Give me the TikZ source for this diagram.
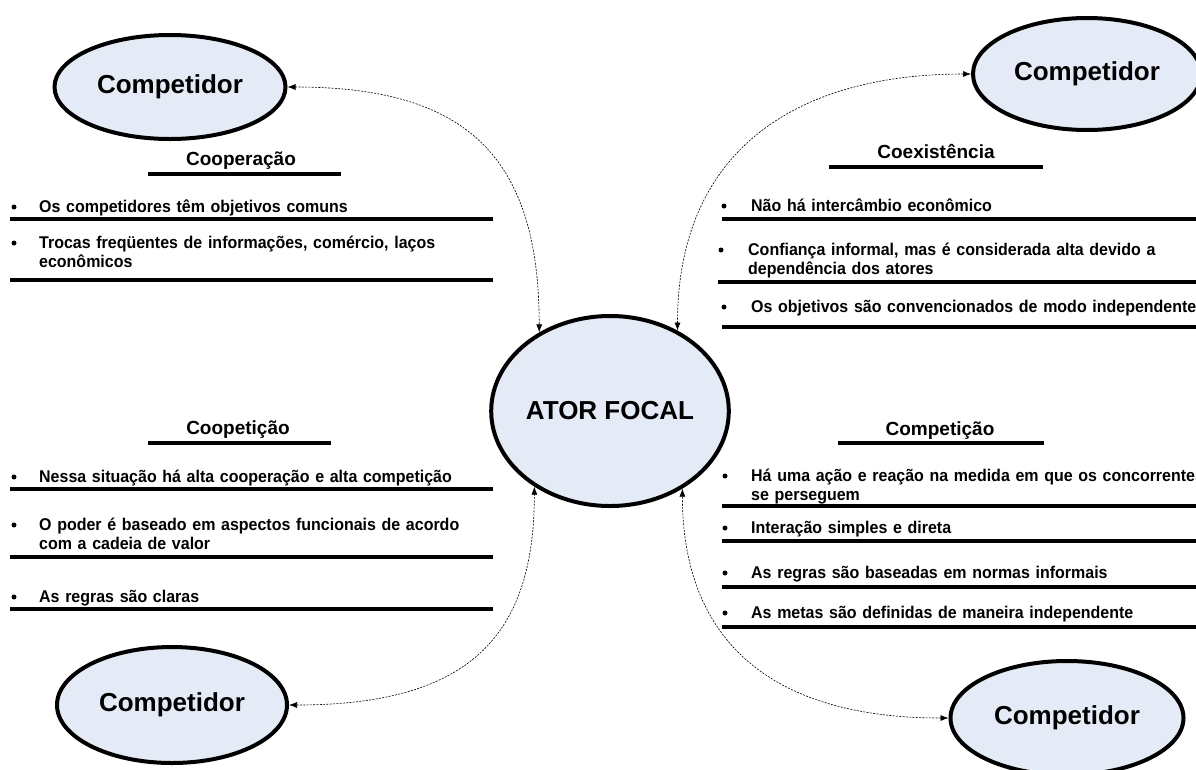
\documentclass[tikz,border=0pt]{standalone}
\usepackage{fontspec}
\setmainfont{Liberation Sans}
\newfontfamily\itemfont[FakeStretch=0.94]{Liberation Sans}
\usetikzlibrary{shapes.geometric,arrows.meta}
\definecolor{ellfill}{RGB}{228,234,246}
\begin{document}
\begin{tikzpicture}[x=1pt,y=-1pt,
  actornode/.style={ellipse,draw=black,line width=4pt,fill=ellfill,inner sep=0pt,
    font=\fontsize{26}{30}\selectfont\bfseries},
  headtext/.style={anchor=base,inner sep=0pt,font=\fontsize{19}{23}\selectfont\bfseries},
  itemtext/.style={anchor=base west,inner sep=0pt,align=left,text width=520pt,
    font=\itemfont\fontsize{17}{19}\selectfont\bfseries},
  sepline/.style={line width=4pt},
  bulletdot/.style={circle,fill=black,inner sep=0pt,minimum size=5pt},
  linkarrow/.style={line width=0.6pt,dash pattern=on 2pt off 1.3pt,
    {Latex[length=8pt,width=6pt]}-{Latex[length=8pt,width=6pt]}}
]
\clip (0,0) rectangle (1196,769);
\fill[white] (0,0) rectangle (1196,769);

% actors
\node[actornode,minimum width=231pt,minimum height=104pt] (c1) at (170,87) {Competidor};
\node[actornode,minimum width=228pt,minimum height=112pt] (c2) at (1087,74) {Competidor};
\node[actornode,minimum width=230pt,minimum height=116pt] (c3) at (172,705) {Competidor};
\node[actornode,minimum width=233pt,minimum height=114pt] (c4) at (1067,718) {Competidor};
\node[actornode,minimum width=230pt,minimum height=190pt] (focal) at (610,411) {ATOR FOCAL};

% relations
\draw[linkarrow] (c1.east) .. controls +(175,0) and +(0,-180) .. (focal.132);
\draw[linkarrow] (c2.west) .. controls +(-175,0) and +(0,-180) .. (focal.50);
\draw[linkarrow] (c3.east) .. controls +(180,0) and +(0,150) .. (focal.225);
\draw[linkarrow] (c4.west) .. controls +(-180,0) and +(0,150) .. (focal.313);

% Cooperacao
\node[headtext] (h1) at (241,165) {Cooperação};
\draw[sepline] (148,174) -- (341,174);
\node[bulletdot] (b11) at (14,207) {};
\node[itemtext] (t11) at (39,212) {Os competidores têm objetivos comuns};
\draw[sepline] (10,219) -- (493,219);
\node[bulletdot] (b12) at (14,243) {};
\node[itemtext] (t12) at (39,248) {Trocas freqüentes de informações, comércio, laços\\econômicos};
\draw[sepline] (10,280) -- (493,280);

% Coopeticao
\node[headtext] (h2) at (238,434) {Coopetição};
\draw[sepline] (148,443) -- (331,443);
\node[bulletdot] (b21) at (14,477) {};
\node[itemtext] (t21) at (39,482) {Nessa situação há alta cooperação e alta competição};
\draw[sepline] (10,489) -- (493,489);
\node[bulletdot] (b22) at (14,525) {};
\node[itemtext] (t22) at (39,530) {O poder é baseado em aspectos funcionais de acordo\\com a cadeia de valor};
\draw[sepline] (10,557) -- (493,557);
\node[bulletdot] (b23) at (14,597) {};
\node[itemtext] (t23) at (39,602) {As regras são claras};
\draw[sepline] (10,609) -- (493,609);

% Coexistencia
\node[headtext] (h3) at (936,158) {Coexistência};
\draw[sepline] (829,167) -- (1043,167);
\node[bulletdot] (b31) at (724,206) {};
\node[itemtext] (t31) at (751,211) {Não há intercâmbio econômico};
\draw[sepline] (722,219) -- (1196,219);
\node[bulletdot] (b32) at (721,250) {};
\node[itemtext] (t32) at (748,255) {Confiança informal, mas é considerada alta devido a\\dependência dos atores};
\draw[sepline] (718,282) -- (1196,282);
\node[bulletdot] (b33) at (724,307) {};
\node[itemtext] (t33) at (751,312) {Os objetivos são convencionados de modo independente};
\draw[sepline] (722,327) -- (1196,327);

% Competicao
\node[headtext] (h4) at (940,435) {Competição};
\draw[sepline] (838,443) -- (1044,443);
\node[bulletdot] (b41) at (725,476) {};
\node[itemtext] (t41) at (751,481) {Há uma ação e reação na medida em que os concorrentes\\se perseguem};
\draw[sepline] (722,506) -- (1196,506);
\node[bulletdot] (b42) at (725,528) {};
\node[itemtext] (t42) at (751,533) {Interação simples e direta};
\draw[sepline] (722,541) -- (1196,541);
\node[bulletdot] (b43) at (725,573) {};
\node[itemtext] (t43) at (751,578) {As regras são baseadas em normas informais};
\draw[sepline] (722,587) -- (1196,587);
\node[bulletdot] (b44) at (725,613) {};
\node[itemtext] (t44) at (751,618) {As metas são definidas de maneira independente};
\draw[sepline] (722,627) -- (1196,627);
\end{tikzpicture}
\end{document}
